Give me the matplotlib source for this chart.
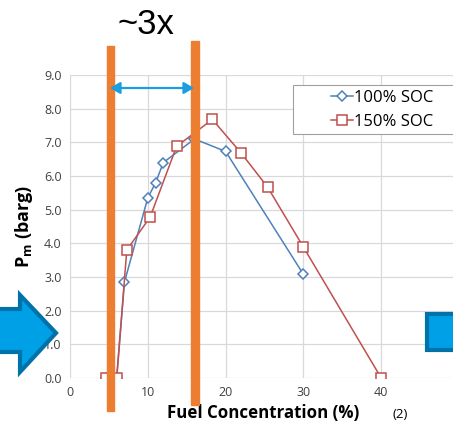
import matplotlib.pyplot as plt
import matplotlib.patches as mpatches
import numpy as np

plt.rcParams['font.family'] = ['Open Sans', 'DejaVu Sans']

# data
x_100 = [4.6, 6.0, 7.0, 10.0, 11.0, 12.0, 16.0, 20.0, 30.0]
y_100 = [0.0, 0.0, 2.85, 5.35, 5.8, 6.4, 7.1, 6.73, 3.08]

x_150 = [4.6, 6.0, 7.3, 10.3, 13.7, 18.3, 22.0, 25.4, 30.0, 40.0]
y_150 = [0.0, 0.0, 3.8, 4.78, 6.88, 7.68, 6.68, 5.67, 3.89, 0.0]

xticks = [0, 10, 20, 30, 40, 50]
yticks = np.arange(0, 9.5, 1.0)

W, H = 453, 426
fig = plt.figure(figsize=(W / 100, H / 100), dpi=100)


# overlay helpers, pixel coordinates of the figure (y from top)
def px(x, y):
    return x / W, 1 - y / H


def rect(x0, y0, x1, y1, **kw):
    a, b = px(x0, y1)
    fig.add_artist(mpatches.Rectangle((a, b), (x1 - x0) / W, (y1 - y0) / H,
                                      transform=fig.transFigure, **kw))


# axes goes a bit past the right edge, like the cropped original
ax = fig.add_axes([70 / W, 48 / H, 389 / W, 303 / H])
ax.set_xlim(0, 50)
ax.set_ylim(0, 9)
ax.set_xticks(xticks)
ax.set_yticks(yticks)
ax.set_yticklabels(["%.1f" % v for v in yticks])
ax.grid(True, color="#d9d9d9", linewidth=0.9)
ax.set_axisbelow(True)
for s in ax.spines.values():
    s.set_visible(False)
ax.tick_params(length=0, labelsize=9, labelcolor="#404040", pad=6)

l1, = ax.plot(x_100, y_100, "-D", color="#4f81bd", markerfacecolor="white",
              markersize=5, markeredgewidth=1.1, linewidth=1.1, label="100% SOC")
l2, = ax.plot(x_150, y_150, "-s", color="#c0504d", markerfacecolor="white",
              markersize=6.5, markeredgewidth=1.1, linewidth=1.1, label="150% SOC")

# legend box is wider than its content in the original
rect(293, 85, 456, 134, facecolor="white", edgecolor="#a0a0a0", linewidth=0.8, zorder=4)
leg = fig.legend(handles=[l1, l2], loc="center left", bbox_to_anchor=px(331, 110),
                 borderaxespad=0, fontsize=12, frameon=False,
                 handlelength=1.3, handletextpad=0.1, borderpad=0, labelspacing=0.5)
leg.set_zorder(5)

ax.set_xlabel("Fuel Concentration (%)", fontsize=12.2, fontweight="bold", va="center")
ax.set_ylabel(r"P$_\mathregular{m}$ (barg)", fontsize=13, fontweight="bold", va="center")
ax.xaxis.set_label_coords((263 - 70) / 389, -(413 - 378) / 303)
ax.yaxis.set_label_coords(-(70 - 24) / 389, (378 - 226) / 303)

orange = "#ed7d31"
rect(107, 46, 114, 411, color=orange, zorder=10)
rect(191, 41, 199, 405, color=orange, zorder=10)

fig.add_artist(mpatches.FancyArrowPatch(px(110, 88), px(194, 88), transform=fig.transFigure,
                                        arrowstyle="<|-|>,head_length=6,head_width=3.5",
                                        shrinkA=0, shrinkB=0,
                                        color="#1b9de0", linewidth=1.6, zorder=11))

fig.text(146 / W, 1 - 24 / H, "~3x", fontsize=25, family="Liberation Sans",
         ha="center", va="center")

# big block arrow on the left
arrow_pts = [(-5, 309), (20, 309), (20, 295), (56, 333), (20, 372), (20, 352), (-5, 352)]
fig.add_artist(mpatches.Polygon([px(a, b) for a, b in arrow_pts], closed=True,
                                transform=fig.transFigure, facecolor="#00a0e6",
                                edgecolor="#0072aa", linewidth=3, zorder=12))
# block on the right edge
rect(427, 314, 460, 350, facecolor="#00a0e6", edgecolor="#0072aa", linewidth=3, zorder=12)

fig.text(400 / W, 1 - 414 / H, "(2)", fontsize=9.5, ha="center", va="center")

fig.savefig("out.png", dpi=100)
